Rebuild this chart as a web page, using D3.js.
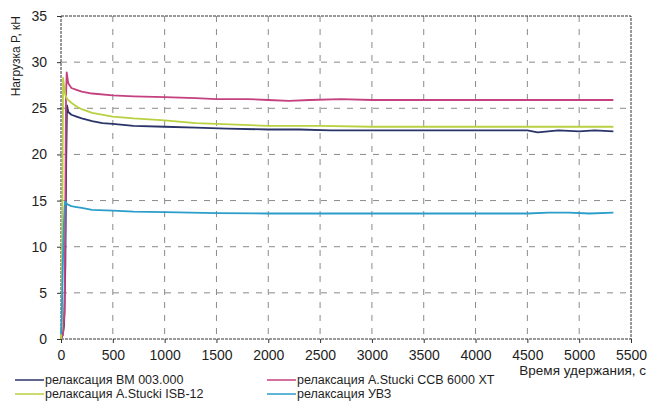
<!DOCTYPE html>
<html>
<head>
<meta charset="utf-8">
<script src="https://cdn.jsdelivr.net/npm/d3@7"></script>
<style>
body { margin: 0; background: #fff; }
text { font-family: "Liberation Sans", Arial, sans-serif; fill: #1e1e1e; }
.grid line { stroke: #8a8a8a; stroke-dasharray: 6,7; }
.axis path, .axis line { stroke: #333; }
</style>
</head>
<body>
<div id="chart"></div>
<script>
// data
var xTicks = [0, 500, 1000, 1500, 2000, 2500, 3000, 3500, 4000, 4500, 5000, 5500];
var yTicks = [0, 5, 10, 15, 20, 25, 30, 35];

var timeBM = [0, 15, 30, 42, 50, 58, 70, 100, 150, 200, 300, 400, 500, 700, 1000, 1300, 1600, 2000, 2300, 2600, 3000, 3500, 4000, 4500, 4600, 4800, 5000, 5150, 5330];
var loadBM = [0, 0.4, 1.5, 8, 19, 25.3, 24.6, 24.3, 24.1, 23.9, 23.6, 23.4, 23.3, 23.1, 23.0, 22.9, 22.8, 22.7, 22.7, 22.6, 22.6, 22.6, 22.6, 22.6, 22.4, 22.6, 22.5, 22.6, 22.5];

var timeCCB = [0, 20, 35, 42, 48, 55, 70, 100, 150, 200, 300, 500, 700, 1000, 1300, 1500, 1800, 2000, 2200, 2400, 2700, 3000, 3500, 4000, 4500, 5000, 5330];
var loadCCB = [0, 0.5, 3, 15, 26, 28.9, 27.7, 27.2, 27.0, 26.8, 26.6, 26.4, 26.3, 26.2, 26.1, 26.0, 26.0, 25.9, 25.8, 25.9, 26.0, 25.9, 25.9, 25.9, 25.9, 25.9, 25.9];

var timeISB = [0, 8, 14, 20, 28, 40, 60, 100, 150, 200, 300, 500, 700, 1000, 1300, 1500, 2000, 2500, 3000, 3500, 4000, 4500, 5000, 5330];
var loadISB = [0, 2, 15, 28.3, 27.5, 26.5, 26.0, 25.6, 25.2, 24.9, 24.5, 24.1, 23.9, 23.7, 23.4, 23.3, 23.1, 23.1, 23.0, 23.0, 23.0, 23.0, 23.0, 23.0];

var timeUVZ = [0, 5, 12, 20, 28, 35, 42, 60, 100, 150, 200, 300, 500, 700, 1000, 1500, 2000, 2500, 3000, 3500, 4000, 4500, 4700, 4900, 5100, 5330];
var loadUVZ = [0.5, 1.5, 5, 9, 12.5, 14.3, 14.9, 14.6, 14.4, 14.3, 14.2, 14.0, 13.9, 13.8, 13.75, 13.65, 13.6, 13.6, 13.6, 13.6, 13.6, 13.6, 13.7, 13.7, 13.6, 13.7];

var seriesNames = ["релаксация ВМ 003.000", "релаксация A.Stucki CCB 6000 XT", "релаксация A.Stucki ISB-12", "релаксация УВЗ"];
var seriesColors = ["#2b3468", "#c4407f", "#b9d140", "#2b9dcb"];

var series = [
  {name: seriesNames[0], color: seriesColors[0], t: timeBM, v: loadBM},
  {name: seriesNames[1], color: seriesColors[1], t: timeCCB, v: loadCCB},
  {name: seriesNames[2], color: seriesColors[2], t: timeISB, v: loadISB},
  {name: seriesNames[3], color: seriesColors[3], t: timeUVZ, v: loadUVZ}
];

var W = 659, H = 412;
var margin = {top: 16, left: 61, right: 28, bottom: 73};
var width = W - margin.left - margin.right,
    height = H - margin.top - margin.bottom;

var svg = d3.select("#chart").append("svg")
  .attr("width", W)
  .attr("height", H);

var g = svg.append("g")
  .attr("transform", "translate(" + margin.left + "," + margin.top + ")");

var xScale = d3.scaleLinear().domain([0, 5500]).range([0, width]);
var yScale = d3.scaleLinear().domain([0, 35]).range([height, 0]);

// grid
g.append("g").attr("class", "grid")
  .selectAll("line").data(xTicks.slice(1, -1)).enter().append("line")
  .attr("x1", d => xScale(d)).attr("x2", d => xScale(d))
  .attr("y1", 0).attr("y2", height);

g.append("g").attr("class", "grid")
  .selectAll("line").data(yTicks.slice(1, -1)).enter().append("line")
  .attr("y1", d => yScale(d)).attr("y2", d => yScale(d))
  .attr("x1", 0).attr("x2", width);

// frame
g.append("rect")
  .attr("width", width).attr("height", height)
  .attr("fill", "none").attr("stroke", "#333")
  .attr("stroke-dasharray", "3,1");

// axes
var xAxis = g.append("g")
  .attr("class", "x axis")
  .attr("transform", "translate(0," + height + ")")
  .call(d3.axisBottom(xScale).tickValues(xTicks).tickFormat(d3.format("d")).tickSize(4).tickPadding(7));
xAxis.select(".domain").remove();
xAxis.selectAll("text").style("font-size", "14px");

var yAxis = g.append("g")
  .attr("class", "y axis")
  .call(d3.axisLeft(yScale).tickValues(yTicks).tickSize(4).tickPadding(10));
yAxis.select(".domain").remove();
yAxis.selectAll("text").style("font-size", "14px");

// lines
var line = d3.line()
  .x(d => xScale(d[0]))
  .y(d => yScale(d[1]));

series.forEach(s => {
  g.append("path")
    .datum(s.t.map((t, i) => [t, s.v[i]]))
    .attr("fill", "none")
    .attr("stroke", s.color)
    .attr("stroke-width", 1.8)
    .attr("stroke-linejoin", "round")
    .attr("d", line);
});

// axis titles
svg.append("text")
  .attr("transform", "translate(20," + margin.top + ") rotate(-90)")
  .attr("text-anchor", "end")
  .style("font-size", "12px")
  .text("Нагрузка P, кН");

svg.append("text")
  .attr("x", 646).attr("y", 375)
  .attr("text-anchor", "end")
  .style("font-size", "13.5px")
  .text("Время удержания, с");

// legend
var legendPos = [[15, 384], [267, 384], [15, 398], [267, 398]];
series.forEach((s, i) => {
  var p = legendPos[i];
  svg.append("line")
    .attr("x1", p[0]).attr("x2", p[0] + 29)
    .attr("y1", p[1] - 4).attr("y2", p[1] - 4)
    .attr("stroke", s.color).attr("stroke-width", 1.5);
  svg.append("text")
    .attr("x", p[0] + 30).attr("y", p[1])
    .style("font-size", "12.5px")
    .text(s.name);
});
</script>
</body>
</html>
